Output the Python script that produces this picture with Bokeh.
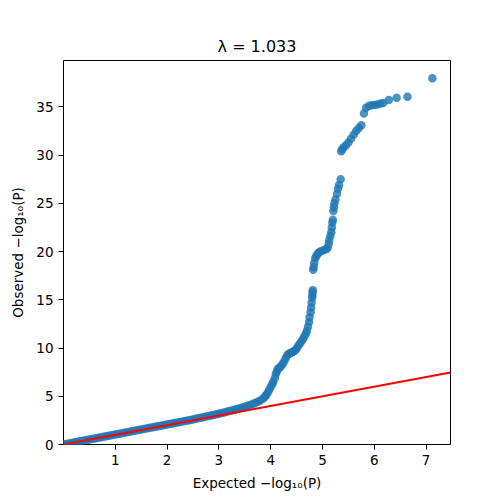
from bokeh.plotting import figure
from bokeh.models import Range1d, FixedTicker
from bokeh.embed import file_html
from bokeh.resources import INLINE

# Expected -log10(P) values and observed -log10(P) values
expected = [
    0.00, 0.05, 0.10, 0.15, 0.20, 0.25, 0.30, 0.35, 0.40, 0.45,
    0.50, 0.55, 0.60, 0.65, 0.70, 0.75, 0.80, 0.85, 0.90, 0.95,
    1.00, 1.05, 1.10, 1.15, 1.20, 1.25, 1.30, 1.35, 1.40, 1.45,
    1.50, 1.55, 1.60, 1.65, 1.70, 1.75, 1.80, 1.85, 1.90, 1.95,
    2.00, 2.05, 2.10, 2.15, 2.20, 2.25, 2.30, 2.35, 2.40, 2.45,
    2.50, 2.55, 2.60, 2.65, 2.70, 2.75, 2.80, 2.85, 2.90, 2.95,
    3.00, 3.05, 3.10, 3.15, 3.20, 3.25, 3.30, 3.35, 3.40, 3.45,
    3.50, 3.55, 3.60, 3.65, 3.70, 3.75, 3.80, 3.85, 3.88, 3.91,
    3.94, 3.97, 4.00, 4.03, 4.05, 4.08, 4.10, 4.12, 4.14, 4.17,
    4.20, 4.23, 4.26, 4.29, 4.32, 4.35, 4.38, 4.41, 4.44, 4.47,
    4.50, 4.53, 4.56, 4.59, 4.62, 4.65, 4.68, 4.70, 4.72, 4.74,
    4.75, 4.77, 4.78, 4.79, 4.80, 4.805, 4.81, 4.812,
    4.82, 4.83, 4.84, 4.86, 4.88, 4.91, 4.94, 4.98, 5.03, 5.07,
    5.10, 5.12, 5.13, 5.15, 5.17, 5.18, 5.19, 5.20, 5.21, 5.22,
    5.23, 5.25, 5.28, 5.30, 5.32, 5.35,
    5.36, 5.38, 5.41, 5.45, 5.50, 5.55, 5.60, 5.65, 5.70, 5.75,
    5.80, 5.84, 5.90, 5.95, 6.00, 6.06, 6.12, 6.17, 6.28, 6.43,
    6.64, 7.12,
]
observed = [
    0.02, 0.06, 0.11, 0.16, 0.21, 0.26, 0.31, 0.36, 0.41, 0.47,
    0.52, 0.57, 0.62, 0.67, 0.72, 0.77, 0.83, 0.88, 0.93, 0.98,
    1.03, 1.08, 1.13, 1.19, 1.24, 1.29, 1.34, 1.39, 1.45, 1.50,
    1.55, 1.60, 1.65, 1.70, 1.76, 1.81, 1.86, 1.91, 1.96, 2.01,
    2.07, 2.12, 2.17, 2.22, 2.28, 2.33, 2.38, 2.44, 2.49, 2.55,
    2.60, 2.66, 2.72, 2.77, 2.83, 2.89, 2.95, 3.01, 3.07, 3.13,
    3.19, 3.26, 3.32, 3.39, 3.46, 3.53, 3.61, 3.68, 3.76, 3.84,
    3.92, 4.01, 4.10, 4.20, 4.31, 4.43, 4.57, 4.75, 4.90, 5.10,
    5.35, 5.65, 5.95, 6.25, 6.50, 6.90, 7.30, 7.60, 7.85, 7.95,
    8.10, 8.35, 8.60, 8.95, 9.25, 9.40, 9.45, 9.55, 9.65, 9.75,
    9.95, 10.20, 10.45, 10.65, 10.90, 11.20, 11.50, 11.80, 12.20, 12.70,
    13.20, 13.70, 14.20, 14.70, 15.20, 15.50, 15.80, 16.00,
    18.10, 18.40, 18.80, 19.30, 19.55, 19.80, 19.95, 20.05, 20.15, 20.25,
    20.40, 20.80, 21.20, 21.60, 22.00, 22.50, 23.00, 23.30, 24.20, 24.60,
    25.00, 25.40, 26.00, 26.50, 26.90, 27.50,
    30.40, 30.60, 30.80, 31.00, 31.30, 31.70, 32.10, 32.50, 32.80, 33.10,
    34.30, 34.90, 35.10, 35.15, 35.20, 35.25, 35.35, 35.40, 35.70, 35.95,
    36.05, 37.97,
]

x_ticks = [1, 2, 3, 4, 5, 6, 7]
y_ticks = [0, 5, 10, 15, 20, 25, 30, 35]
x_max = 7.47
y_max = 39.8
title_text = "λ = 1.033"
x_label = "Expected −log₁₀(P)"
y_label = "Observed −log₁₀(P)"

FONT = "DejaVu Sans"

p = figure(width=500, height=500, output_backend="svg", toolbar_location=None,
           x_range=Range1d(0.001, x_max), y_range=Range1d(0, y_max),
           min_border_left=63, min_border_right=50, min_border_top=60,
           min_border_bottom=56, title=title_text)

p.title.align = "center"
p.title.text_font = FONT
p.title.text_font_size = "16px"
p.title.text_font_style = "normal"
p.title.text_color = "black"
p.title.standoff = 9

p.scatter(expected, observed, size=8.5, fill_color="#1f77b4", fill_alpha=0.8,
          line_color=None)

p.line([0, x_max], [0, x_max], line_color="red", line_width=2)

p.xgrid.visible = False
p.ygrid.visible = False
p.outline_line_color = "black"
p.outline_line_width = 1
p.outline_line_alpha = 1
p.background_fill_color = "white"
p.border_fill_color = "white"

p.xaxis.ticker = FixedTicker(ticks=x_ticks)
p.yaxis.ticker = FixedTicker(ticks=y_ticks)
for ax in (p.xaxis, p.yaxis):
    ax.axis_line_color = None
    ax.major_tick_line_color = "black"
    ax.major_tick_in = 0
    ax.major_tick_out = 5
    ax.minor_tick_line_color = None
    ax.major_label_text_font = FONT
    ax.major_label_text_font_size = "13.5px"
    ax.major_label_text_color = "black"
    ax.major_label_standoff = 5
    ax.axis_label_text_font = FONT
    ax.axis_label_text_font_size = "13.5px"
    ax.axis_label_text_font_style = "normal"
    ax.axis_label_text_color = "black"
    ax.axis_label_standoff = 7
p.xaxis.axis_label = x_label
p.yaxis.axis_label = y_label

open("out.html", "w").write(file_html(p, INLINE))
